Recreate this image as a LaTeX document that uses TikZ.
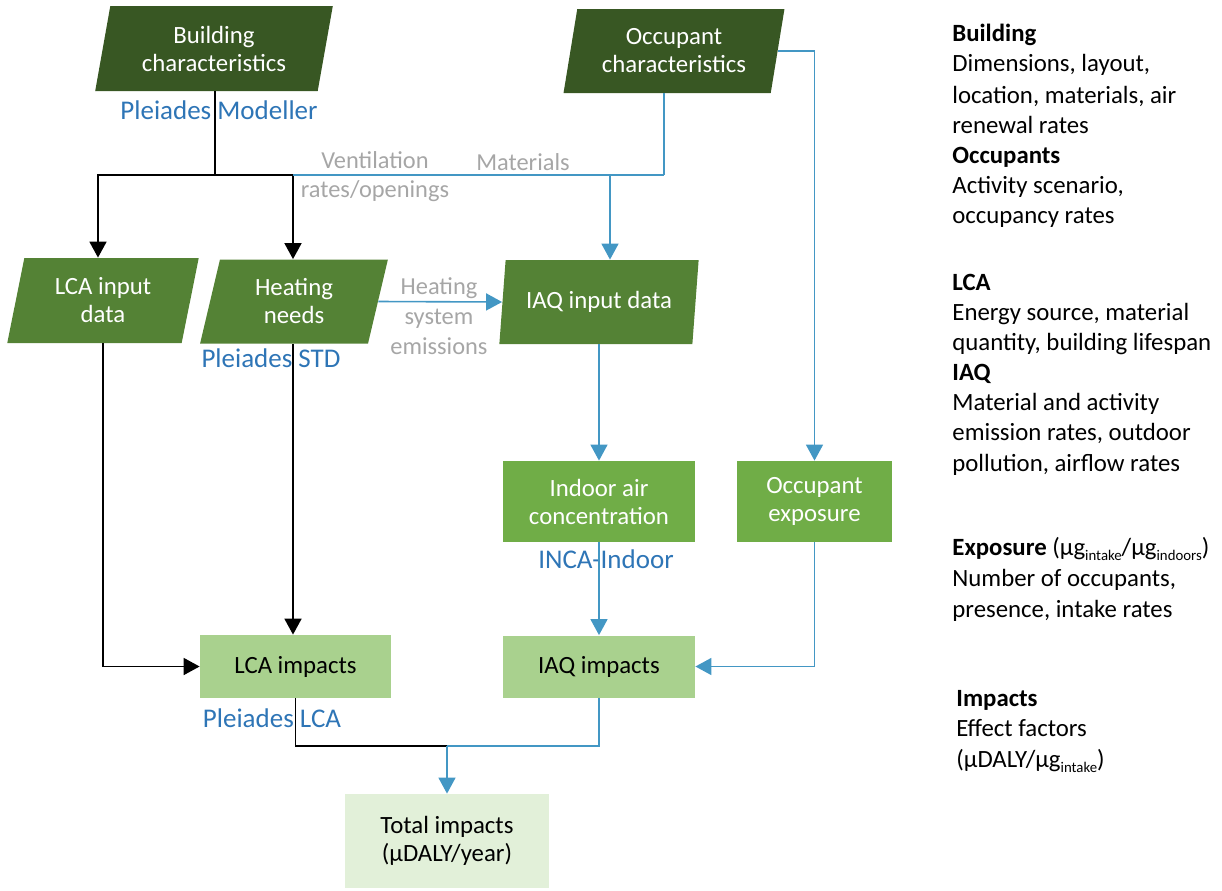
\documentclass[tikz,border=0pt]{standalone}
\usepackage{fontspec}
\setmainfont{Carlito}
\usetikzlibrary{arrows.meta,shapes.geometric}
\definecolor{dkgreen}{HTML}{385723}
\definecolor{mdgreen}{HTML}{548235}
\definecolor{ltgreen}{HTML}{70AD47}
\definecolor{pagreen}{HTML}{A9D18E}
\definecolor{vpgreen}{HTML}{E2F0D9}
\definecolor{toolblue}{HTML}{2E75B6}
\definecolor{lineblue}{HTML}{4397C4}
\definecolor{labelgray}{HTML}{A6A6A6}
\newcommand{\lowsub}[1]{\raisebox{-2.6pt}{\fontsize{7.4}{8}\selectfont #1}}
\begin{document}
\begin{tikzpicture}[x=0.5pt,y=-0.5pt,
  boxfont/.style={font=\fontsize{12.4}{14}\selectfont},
  para/.style={trapezium, trapezium stretches=true, trapezium left angle=77,
    trapezium right angle=103, align=center, text=white, boxfont, inner sep=0pt, draw=none},
  rbox/.style={rectangle, align=center, boxfont, inner sep=0pt},
  tool/.style={text=toolblue, font=\fontsize{13.5}{16}\selectfont, inner sep=0pt},
  glabel/.style={text=labelgray, align=center, inner sep=0pt},
  blk/.style={draw=black, line width=0.9pt},
  blu/.style={draw=lineblue, line width=0.8pt},
  tip/.style={-{Triangle[width=8.5pt,length=8pt]}},
  side/.style={anchor=base west, inner sep=0pt, font=\fontsize{12.4}{15}\selectfont}
]
\useasboundingbox (0,0) rectangle (1222,890);

% boxes
\node[para, fill=dkgreen, minimum width=119pt, minimum height=42.5pt] (bc) at (214,48.5) {Building\\characteristics};
\node[para, fill=dkgreen, minimum width=111pt, minimum height=42pt] (oc) at (674,51) {Occupant\\characteristics};
\node[para, fill=mdgreen, minimum width=96pt, minimum height=42.5pt] (lcain) at (103,300.5) {LCA input\\data};
\node[para, fill=mdgreen, minimum width=94pt, minimum height=42pt] (hn) at (294,301.5) {Heating\\needs};
\node[para, fill=mdgreen, minimum width=100pt, minimum height=42pt] (iaqin) at (599,302) {IAQ input data};
\node[rbox, fill=ltgreen, text=white, minimum width=96pt, minimum height=40.5pt] (iac) at (599,501.5) {Indoor air\\concentration};
\node[rbox, fill=ltgreen, text=white, minimum width=77.5pt, minimum height=40.5pt] (oe) at (814.5,501.5) {Occupant\\exposure};
\node[rbox, fill=pagreen, minimum width=95.5pt, minimum height=31.5pt] (lcaimp) at (295.5,666.5) {LCA impacts};
\node[rbox, fill=pagreen, minimum width=96pt, minimum height=31pt] (iaqimp) at (599,666.5) {IAQ impacts};
\node[rbox, fill=vpgreen, minimum width=102pt, minimum height=47pt] (total) at (447,841) {Total impacts\\(µDALY/year)};

% tool labels
\node[tool] (pm) at (219,110) {Pleiades Modeller};
\node[tool] (pstd) at (271,358) {Pleiades STD};
\node[tool] (inca) at (606,559) {INCA-Indoor};
\node[tool] (plca) at (272,718) {Pleiades LCA};

% gray labels
\node[glabel, font=\fontsize{12.2}{14.5}\selectfont] (vent) at (375,176.5) {Ventilation\\rates/openings};
\node[glabel, font=\fontsize{12.2}{14.5}\selectfont] (mat) at (523,162) {Materials};
\node[glabel, font=\fontsize{12.2}{15}\selectfont] (hse) at (439,316) {Heating\\system\\emissions};

% junctions
\coordinate (jB) at (215,175);
\coordinate (jL) at (98,175);
\coordinate (jH) at (293,175);
\coordinate (jI) at (610,175);
\coordinate (jO) at (664,175);
\coordinate (jT) at (447,746);

% black connectors
\draw[blk] (bc.south -| jB) -- (jB);
\draw[blk, tip] (jB) -- (jL) -- (lcain.north -| jL);
\draw[blk, tip] (jB) -- (jH) -- (hn.north -| jH);
\draw[blk, tip] (lcain.south -| lcain.center) -- (lcain.center |- lcaimp.west) -- (lcaimp.west);
\draw[blk, tip] (hn.south -| jH) -- (lcaimp.north -| jH);
\draw[blk] (lcaimp.south) -- (lcaimp.south |- jT) -- (jT);

% blue connectors
\draw[blu] (jH) -- (jO);
\draw[blu] (oc.south -| jO) -- (jO);
\draw[blu, tip] (jI) -- (iaqin.north -| jI);
\draw[blu, tip] (oc.east) -- (oc.east -| oe.north) -- (oe.north);
\draw[blu, tip] (hn.east) -- (iaqin.west);
\draw[blu, tip] (iaqin.south -| iac.north) -- (iac.north);
\draw[blu, tip] (iac.south) -- (iaqimp.north);
\draw[blu, tip] (oe.south) -- (oe.south |- iaqimp.east) -- (iaqimp.east);
\draw[blu] (iaqimp.south) -- (iaqimp.south |- jT) -- (jT);
\draw[blu, tip] (jT) -- (total.north);

% side notes
\foreach \yy/\txt [count=\i] in {41/\textbf{Building}, 71/{Dimensions, layout,}, 103/{location, materials, air}, 133/{renewal rates}, 163/\textbf{Occupants}, 193/{Activity scenario,}, 223/{occupancy rates}, 290/\textbf{LCA}, 320/{Energy source, material}, 350/{quantity, building lifespan}, 380/\textbf{IAQ}, 410/{Material and activity}, 440/{emission rates, outdoor}, 471/{pollution, airflow rates}, 555/{\textbf{Exposure} (µg\lowsub{intake}/µg\lowsub{indoors})}, 586/{Number of occupants,}, 617/{presence, intake rates}}
  \node[side] (s\i) at (952,\yy) {\txt};
\node[side] (imp1) at (956,706) {\textbf{Impacts}};
\node[side] (imp2) at (956,736) {Effect factors};
\node[side] (imp3) at (956,767) {(µDALY/µg\lowsub{intake})};
\end{tikzpicture}
\end{document}
